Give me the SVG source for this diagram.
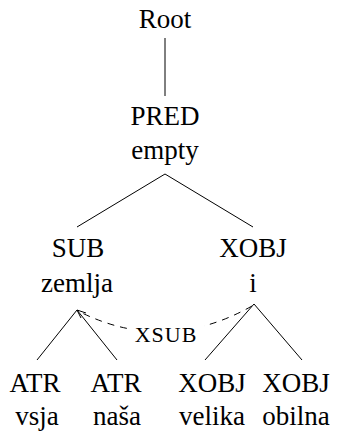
<svg xmlns="http://www.w3.org/2000/svg" width="341" height="436" viewBox="0 0 341 436">
<style>
.t{font-family:"Liberation Serif",serif;font-size:27px;fill:#000;text-anchor:middle}
.sc{font-family:"Liberation Serif",serif;font-size:22px;letter-spacing:1px;fill:#000;text-anchor:middle}
.e{stroke:#000;stroke-width:1;fill:none}
</style>
<rect width="341" height="436" fill="#fff"/>
<g id="connectors">
<line class="e" x1="165" y1="38" x2="165" y2="96"/>
<line class="e" x1="165" y1="174" x2="77" y2="227"/>
<line class="e" x1="165" y1="174" x2="253" y2="227"/>
<line class="e" x1="77" y1="310" x2="37" y2="360"/>
<line class="e" x1="77" y1="310" x2="117" y2="360"/>
<line class="e" x1="254" y1="304" x2="205" y2="360"/>
<line class="e" x1="254" y1="304" x2="302" y2="360"/>
<path class="e" d="M252,306 Q165,355 78,311" stroke-dasharray="7 6"/>
<path class="e" d="M86,313 L77,310 L81,318" stroke-width="1.2"/>
<rect x="127" y="320" width="77" height="26" fill="#fff"/>
<text class="sc" x="166" y="342">XSUB</text>
</g>
<g id="root"><text class="t" x="165" y="28">Root</text></g>
<g id="pred"><text class="t" x="165" y="125">PRED</text><text class="t" x="165" y="159">empty</text></g>
<g id="sub"><text class="t" x="78" y="257">SUB</text><text class="t" x="77" y="292">zemlja</text></g>
<g id="xobj"><text class="t" x="253" y="257">XOBJ</text><text class="t" x="253" y="292">i</text></g>
<g id="atr1"><text class="t" x="35" y="392">ATR</text><text class="t" x="37" y="425">vsja</text></g>
<g id="atr2"><text class="t" x="116" y="392">ATR</text><text class="t" x="117" y="425">na&#353;a</text></g>
<g id="xobj1"><text class="t" x="212" y="392">XOBJ</text><text class="t" x="212" y="425">velika</text></g>
<g id="xobj2"><text class="t" x="296" y="392">XOBJ</text><text class="t" x="296" y="425">obilna</text></g>
</svg>
